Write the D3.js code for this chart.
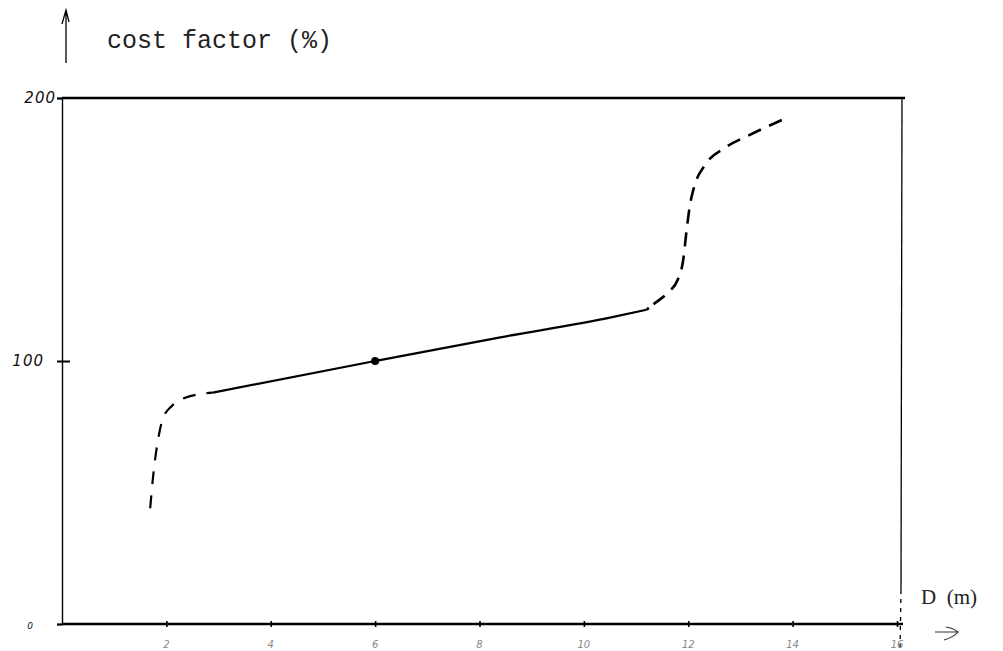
<!DOCTYPE html>
<html>
<head>
<meta charset="utf-8">
<script src="https://cdn.jsdelivr.net/npm/d3@7"></script>
<style>
  body { margin: 0; background: #fff; }
  svg { display: block; }
</style>
</head>
<body>
<div id="chart"></div>
<script>
// Data

var xTicks = [2, 4, 6, 8, 10, 12, 14, 16];
var yTicks = [0, 100, 200];

// lower dashed bend
var lowD = [1.69, 1.74, 1.78, 1.84, 1.93, 2.11, 2.36, 2.89];
var lowV = [44, 55, 62, 70, 78, 83, 86, 88];

// solid middle part
var midD = [2.89, 6, 8.4, 10.5, 11.2];
var midV = [88, 100, 109, 116.5, 119.5];

// upper dashed bend
var highD = [11.2, 11.36, 11.61, 11.8, 11.9, 11.97, 12.03, 12.11, 12.32, 12.7, 13.18, 13.95];
var highV = [119.5, 122, 126, 131, 138, 150, 159, 166, 174.5, 181, 186, 193];

var markD = [6];
var markV = [100];

var width = 1003, height = 651;

var svg = d3.select("#chart").append("svg")
    .attr("width", width)
    .attr("height", height);

var x = d3.scaleLinear().domain([0, 16]).range([62, 897]);
var y = d3.scaleLinear().domain([0, 200]).range([624, 98]);

function zip(ds, vs) {
    return ds.map(function (d, i) { return [d, vs[i]]; });
}

var line = d3.line()
    .x(function (p) { return x(p[0]); })
    .y(function (p) { return y(p[1]); })
    .curve(d3.curveMonotoneX);

// Frame: top and right edges

svg.append("line")
    .attr("x1", x(0)).attr("x2", 905)
    .attr("y1", y(200)).attr("y2", y(200))
    .attr("stroke", "#000").attr("stroke-width", 2.5);

svg.append("line")
    .attr("x1", 902).attr("x2", 901)
    .attr("y1", y(200)).attr("y2", 590)
    .attr("stroke", "#000").attr("stroke-width", 1.3);

svg.append("line")
    .attr("x1", 901).attr("x2", 900)
    .attr("y1", 590).attr("y2", 651)
    .attr("stroke", "#000").attr("stroke-width", 1.3)
    .attr("stroke-dasharray", "4,5");

// Y axis

var yAxis = svg.append("g")
    .attr("transform", "translate(" + x(0) + ",0)")
    .call(d3.axisLeft(y).tickValues(yTicks).tickSize(5).tickFormat(""));

yAxis.select(".domain").attr("stroke", "#000").attr("stroke-width", 1.4);
yAxis.selectAll(".tick line").attr("stroke", "#000").attr("stroke-width", 2);
yAxis.selectAll(".tick").filter(function (d) { return d === 100; })
    .select("line").attr("x1", -5).attr("x2", 8);

svg.selectAll(".ylab")
    .data(yTicks)
    .enter().append("text")
    .attr("class", "ylab")
    .attr("x", function (d) { return d === 200 ? 56 : d === 100 ? 44 : 34; })
    .attr("y", function (d) { return y(d) + 5; })
    .attr("text-anchor", "end")
    .style("font-family", "DejaVu Sans")
    .style("font-style", "italic")
    .style("font-size", function (d) { return d === 0 ? "9px" : "15px"; })
    .style("letter-spacing", "1px")
    .style("fill", "#111")
    .text(function (d) { return d; });

// X axis

var xAxis = svg.append("g")
    .attr("transform", "translate(0," + y(0) + ")")
    .call(d3.axisBottom(x).tickValues(xTicks).tickSize(4).tickFormat(""));

xAxis.select(".domain")
    .attr("d", "M" + x(0) + ",0H" + 903)
    .attr("stroke", "#000").attr("stroke-width", 2.4);
xAxis.selectAll(".tick line")
    .attr("y1", -3).attr("y2", 3)
    .attr("stroke", "#000").attr("stroke-width", 1.6);

svg.selectAll(".xlab")
    .data(xTicks)
    .enter().append("text")
    .attr("class", "xlab")
    .attr("x", function (d) { return x(d); })
    .attr("y", 648)
    .attr("text-anchor", "middle")
    .style("font-family", "DejaVu Sans")
    .style("font-style", "italic")
    .style("font-size", "10px")
    .style("fill", "#888")
    .text(function (d) { return d; });

// Axis arrows and titles

svg.append("path")
    .attr("d", "M66,63 L66,12 M62,24 L66,10 L69,22")
    .attr("fill", "none").attr("stroke", "#000").attr("stroke-width", 1.3);

svg.append("text")
    .attr("x", 107).attr("y", 48)
    .style("font-family", "Liberation Mono")
    .style("font-size", "25px")
    .style("fill", "#222")
    .text("cost factor (%)");

svg.append("text")
    .attr("x", 921).attr("y", 604)
    .attr("xml:space", "preserve")
    .style("font-family", "Liberation Serif")
    .style("font-size", "21px")
    .style("fill", "#222")
    .text("D  (m)");

svg.append("path")
    .attr("d", "M935,632 L958,632 M944,640 Q954,637 958,632 Q953,628 946,627")
    .attr("fill", "none").attr("stroke", "#333").attr("stroke-width", 1.2);

// Curve

svg.append("path")
    .datum(zip(lowD, lowV))
    .attr("d", line)
    .attr("fill", "none").attr("stroke", "#000").attr("stroke-width", 2.2)
    .attr("stroke-dasharray", "13,11");

svg.append("path")
    .datum(zip(midD, midV))
    .attr("d", line)
    .attr("fill", "none").attr("stroke", "#000").attr("stroke-width", 2.2);

svg.append("path")
    .datum(zip(highD, highV))
    .attr("d", line)
    .attr("fill", "none").attr("stroke", "#000").attr("stroke-width", 2.6)
    .attr("stroke-dasharray", "3,6,14,9,14,9,14,9,14,9,14,9,14,9,14,9,14,9,14,9,14,9,14,9");

svg.selectAll(".mark")
    .data(zip(markD, markV))
    .enter().append("circle")
    .attr("class", "mark")
    .attr("cx", function (p) { return x(p[0]); })
    .attr("cy", function (p) { return y(p[1]); })
    .attr("r", 4)
    .attr("fill", "#000");
</script>
</body>
</html>
